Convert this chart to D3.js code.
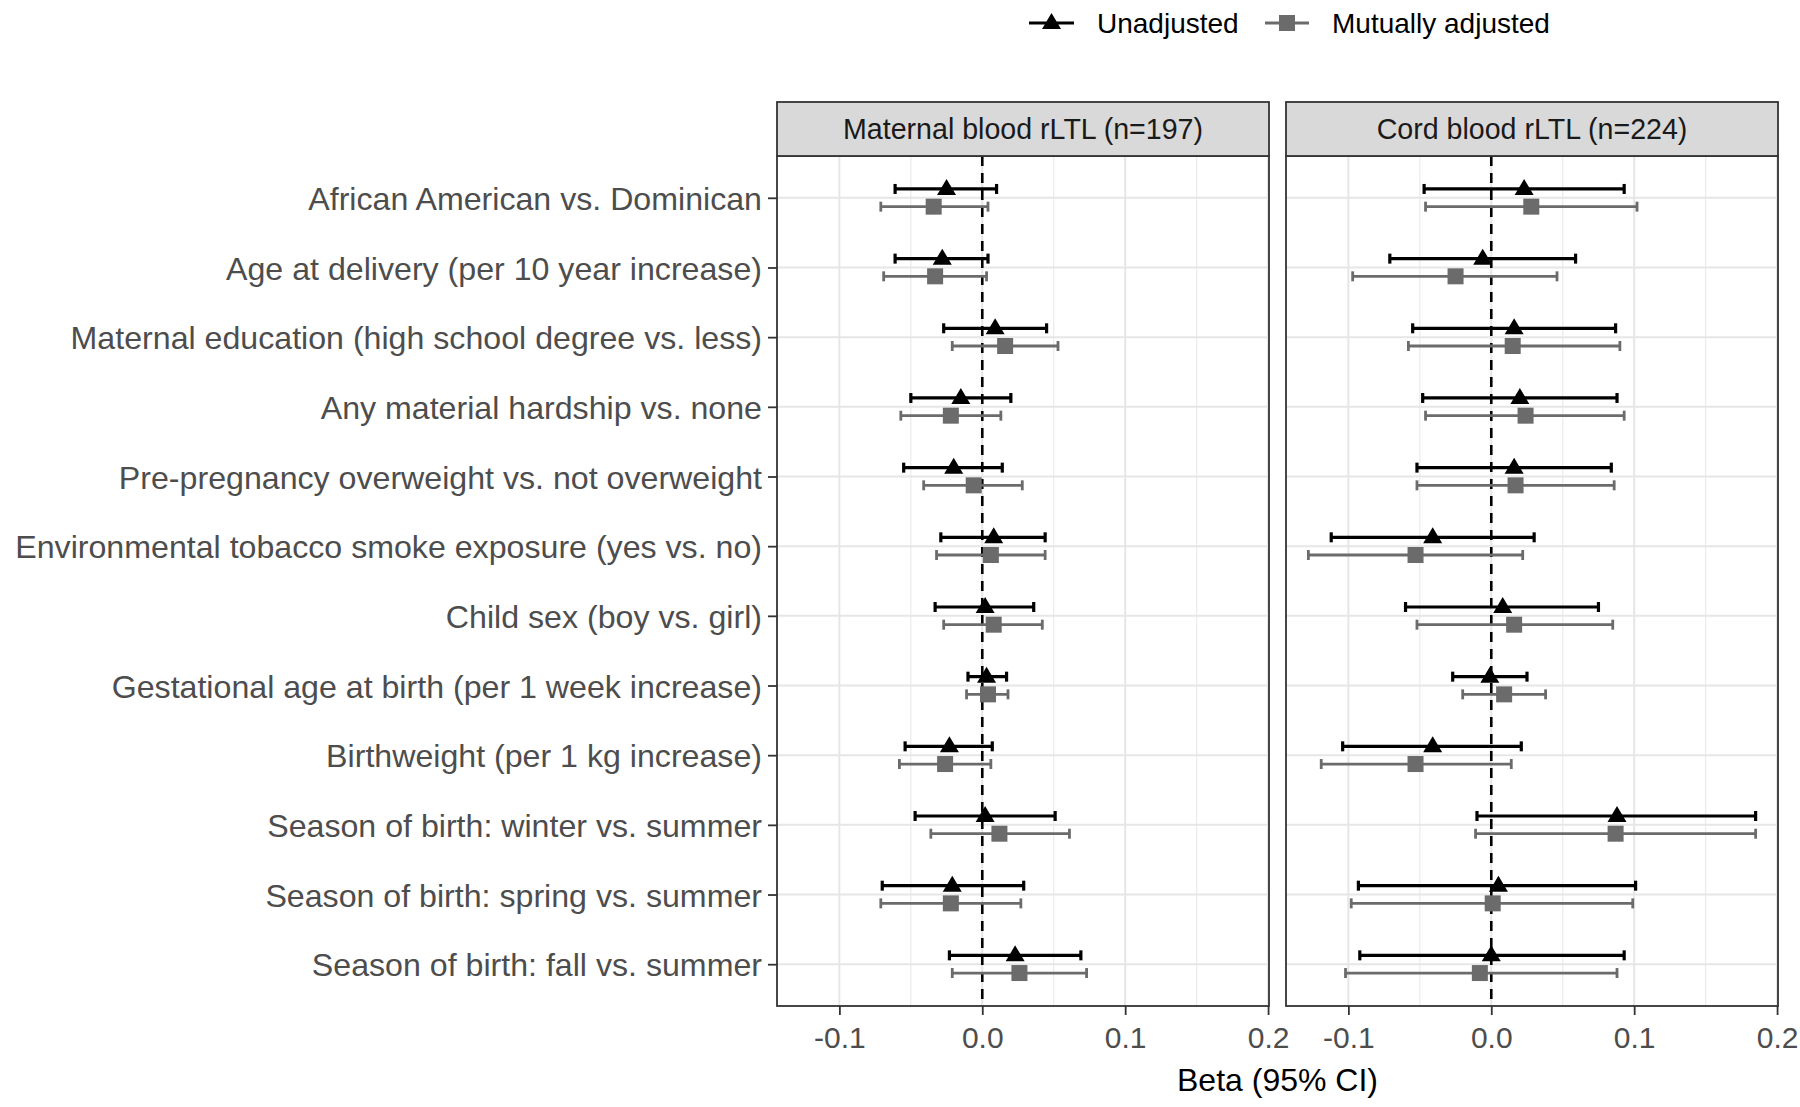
<!DOCTYPE html>
<html>
<head>
<meta charset="utf-8">
<script src="https://cdn.jsdelivr.net/npm/d3@7"></script>
<style>
  html, body { margin: 0; padding: 0; background: #fff; }
  svg { display: block; font-family: "Liberation Sans", Arial, Helvetica, sans-serif; }
</style>
</head>
<body>
<svg id="chart" width="1800" height="1107"></svg>
<script>
// ---------------- data ----------------
const categories = [
  "African American vs. Dominican",
  "Age at delivery (per 10 year increase)",
  "Maternal education (high school degree vs. less)",
  "Any material hardship vs. none",
  "Pre-pregnancy overweight vs. not overweight",
  "Environmental tobacco smoke exposure (yes vs. no)",
  "Child sex (boy vs. girl)",
  "Gestational age at birth (per 1 week increase)",
  "Birthweight (per 1 kg increase)",
  "Season of birth: winter vs. summer",
  "Season of birth: spring vs. summer",
  "Season of birth: fall vs. summer"
];
const panels = ["Maternal blood rLTL (n=197)", "Cord blood rLTL (n=224)"];
const seriesNames = ["Unadjusted", "Mutually adjusted"];

// [estimate, lower, upper]
const maternalUnadjusted = [
  [-0.025, -0.061, 0.010],
  [-0.028, -0.061, 0.004],
  [0.009, -0.027, 0.045],
  [-0.015, -0.050, 0.020],
  [-0.020, -0.055, 0.014],
  [0.008, -0.029, 0.044],
  [0.002, -0.033, 0.036],
  [0.003, -0.010, 0.017],
  [-0.023, -0.054, 0.007],
  [0.002, -0.047, 0.051],
  [-0.021, -0.070, 0.029],
  [0.023, -0.023, 0.069]
];
const maternalAdjusted = [
  [-0.034, -0.071, 0.004],
  [-0.033, -0.069, 0.003],
  [0.016, -0.021, 0.053],
  [-0.022, -0.057, 0.013],
  [-0.006, -0.041, 0.028],
  [0.006, -0.032, 0.044],
  [0.008, -0.027, 0.042],
  [0.004, -0.011, 0.018],
  [-0.026, -0.058, 0.006],
  [0.012, -0.036, 0.061],
  [-0.022, -0.071, 0.027],
  [0.026, -0.021, 0.073]
];
const cordUnadjusted = [
  [0.023, -0.047, 0.093],
  [-0.006, -0.071, 0.059],
  [0.016, -0.055, 0.087],
  [0.020, -0.048, 0.088],
  [0.016, -0.052, 0.084],
  [-0.041, -0.112, 0.030],
  [0.008, -0.060, 0.075],
  [-0.001, -0.027, 0.025],
  [-0.041, -0.104, 0.021],
  [0.088, -0.010, 0.185],
  [0.005, -0.093, 0.101],
  [0.000, -0.092, 0.093]
];
const cordAdjusted = [
  [0.028, -0.046, 0.102],
  [-0.025, -0.097, 0.046],
  [0.015, -0.058, 0.090],
  [0.024, -0.046, 0.093],
  [0.017, -0.052, 0.086],
  [-0.053, -0.128, 0.022],
  [0.016, -0.052, 0.085],
  [0.009, -0.020, 0.038],
  [-0.053, -0.119, 0.014],
  [0.087, -0.011, 0.185],
  [0.001, -0.098, 0.099],
  [-0.008, -0.102, 0.088]
];
const xTicks = [-0.1, 0.0, 0.1, 0.2];
const xMinorTicks = [-0.05, 0.05, 0.15];
const xTitle = "Beta (95% CI)";

// ---------------- layout ----------------
const svg = d3.select("#chart");
const font = '"Liberation Sans", Arial, Helvetica, sans-serif';
const panelBoxes = [{x0: 777, x1: 1269}, {x0: 1286, x1: 1778}];
const stripTop = 102, panelTop = 156, panelBottom = 1006;
const colors = ["#000000", "#6b6b6b"];

const panelData = [
  [maternalUnadjusted, maternalAdjusted],
  [cordUnadjusted, cordAdjusted]
];

// shared x extent with 5% expansion
const allVals = panelData.flat(2).flat();
const ext = d3.extent(allVals);
const pad = (ext[1] - ext[0]) * 0.05;
const xDomain = [ext[0] - pad, ext[1] + pad];

const y = d3.scalePoint().domain(categories).range([panelTop, panelBottom]).padding(0.6);
const dodge = y.step() * 0.127;
const fmt = v => d3.format(".1f")(v).replace("\u2212", "-");

panelBoxes.forEach((pb, pi) => {
  const x = d3.scaleLinear().domain(xDomain).range([pb.x0, pb.x1]);
  const g = svg.append("g");

  g.append("rect").attr("x", pb.x0).attr("y", panelTop)
    .attr("width", pb.x1 - pb.x0).attr("height", panelBottom - panelTop)
    .attr("fill", "#fff");

  g.selectAll(".minor").data(xMinorTicks).enter().append("line")
    .attr("x1", d => x(d)).attr("x2", d => x(d))
    .attr("y1", panelTop).attr("y2", panelBottom)
    .attr("stroke", "#ebebeb").attr("stroke-width", 1.2);
  g.selectAll(".majorx").data(xTicks).enter().append("line")
    .attr("x1", d => x(d)).attr("x2", d => x(d))
    .attr("y1", panelTop).attr("y2", panelBottom)
    .attr("stroke", "#e6e6e6").attr("stroke-width", 2);
  g.selectAll(".majory").data(categories).enter().append("line")
    .attr("x1", pb.x0).attr("x2", pb.x1)
    .attr("y1", d => y(d)).attr("y2", d => y(d))
    .attr("stroke", "#e6e6e6").attr("stroke-width", 2);

  g.append("line")
    .attr("x1", x(0)).attr("x2", x(0))
    .attr("y1", panelTop).attr("y2", panelBottom)
    .attr("stroke", "#000").attr("stroke-width", 2.6)
    .attr("stroke-dasharray", "10,7");

  panelData[pi].forEach((series, si) => {
    const off = si === 0 ? -dodge : dodge;
    const col = colors[si];
    const lw = si === 0 ? 3.2 : 2.8;
    const sg = g.append("g");
    series.forEach((d, i) => {
      const cy = y(categories[i]) + off;
      sg.append("line").attr("x1", x(d[1])).attr("x2", x(d[2]))
        .attr("y1", cy).attr("y2", cy).attr("stroke", col).attr("stroke-width", lw);
      [d[1], d[2]].forEach(v => {
        sg.append("line").attr("x1", x(v)).attr("x2", x(v))
          .attr("y1", cy - 5).attr("y2", cy + 5)
          .attr("stroke", col).attr("stroke-width", lw);
      });
      if (si === 0) {
        const cx = x(d[0]);
        sg.append("path")
          .attr("d", `M${cx},${cy - 10} L${cx + 9.5},${cy + 6} L${cx - 9.5},${cy + 6} Z`)
          .attr("fill", col);
      } else {
        sg.append("rect").attr("x", x(d[0]) - 8).attr("y", cy - 8)
          .attr("width", 16).attr("height", 16).attr("fill", col);
      }
    });
  });

  g.append("rect").attr("x", pb.x0).attr("y", panelTop)
    .attr("width", pb.x1 - pb.x0).attr("height", panelBottom - panelTop)
    .attr("fill", "none").attr("stroke", "#333").attr("stroke-width", 1.8);

  g.append("rect").attr("x", pb.x0).attr("y", stripTop)
    .attr("width", pb.x1 - pb.x0).attr("height", panelTop - stripTop)
    .attr("fill", "#d9d9d9").attr("stroke", "#333").attr("stroke-width", 1.8);
  g.append("text").attr("x", (pb.x0 + pb.x1) / 2).attr("y", (stripTop + panelTop) / 2 + 10)
    .attr("text-anchor", "middle").attr("font-size", 28.6).attr("fill", "#1a1a1a")
    .attr("font-family", font).text(panels[pi]);

  const ax = g.append("g").attr("transform", `translate(0,${panelBottom})`)
    .call(d3.axisBottom(x).tickValues(xTicks).tickFormat(fmt).tickSize(9).tickPadding(10));
  ax.select(".domain").remove();
  ax.selectAll(".tick line").attr("stroke", "#333").attr("stroke-width", 1.8);
  ax.selectAll(".tick text").attr("font-size", 30).attr("fill", "#4d4d4d")
    .attr("font-family", font).attr("dy", "0.78em");
});

const ya = svg.append("g").attr("transform", `translate(${panelBoxes[0].x0},0)`)
  .call(d3.axisLeft(y).tickSize(9).tickPadding(6));
ya.select(".domain").remove();
ya.selectAll(".tick line").attr("stroke", "#333").attr("stroke-width", 1.8);
ya.selectAll(".tick text").attr("font-size", 32.15).attr("fill", "#4d4d4d")
  .attr("font-family", font).attr("dy", "0.36em");

svg.append("text").attr("x", (panelBoxes[0].x0 + panelBoxes[1].x1) / 2).attr("y", 1091)
  .attr("text-anchor", "middle").attr("font-size", 32).attr("fill", "#000")
  .attr("font-family", font).text(xTitle);

const legendY = 23;
const lg = svg.append("g");
const legItems = [
  {x0: 1029, x1: 1074, tx: 1097},
  {x0: 1265, x1: 1309, tx: 1332}
];
legItems.forEach((li, i) => {
  const cx = (li.x0 + li.x1) / 2;
  lg.append("line").attr("x1", li.x0).attr("x2", li.x1)
    .attr("y1", legendY).attr("y2", legendY)
    .attr("stroke", colors[i]).attr("stroke-width", i === 0 ? 3.2 : 2.8);
  if (i === 0) {
    lg.append("path")
      .attr("d", `M${cx},${legendY - 10} L${cx + 9.5},${legendY + 6} L${cx - 9.5},${legendY + 6} Z`)
      .attr("fill", colors[i]);
  } else {
    lg.append("rect").attr("x", cx - 8).attr("y", legendY - 8)
      .attr("width", 16).attr("height", 16).attr("fill", colors[i]);
  }
  lg.append("text").attr("x", li.tx).attr("y", legendY + 10)
    .attr("font-size", 28).attr("fill", "#000").attr("font-family", font)
    .text(seriesNames[i]);
});
</script>
</body>
</html>
